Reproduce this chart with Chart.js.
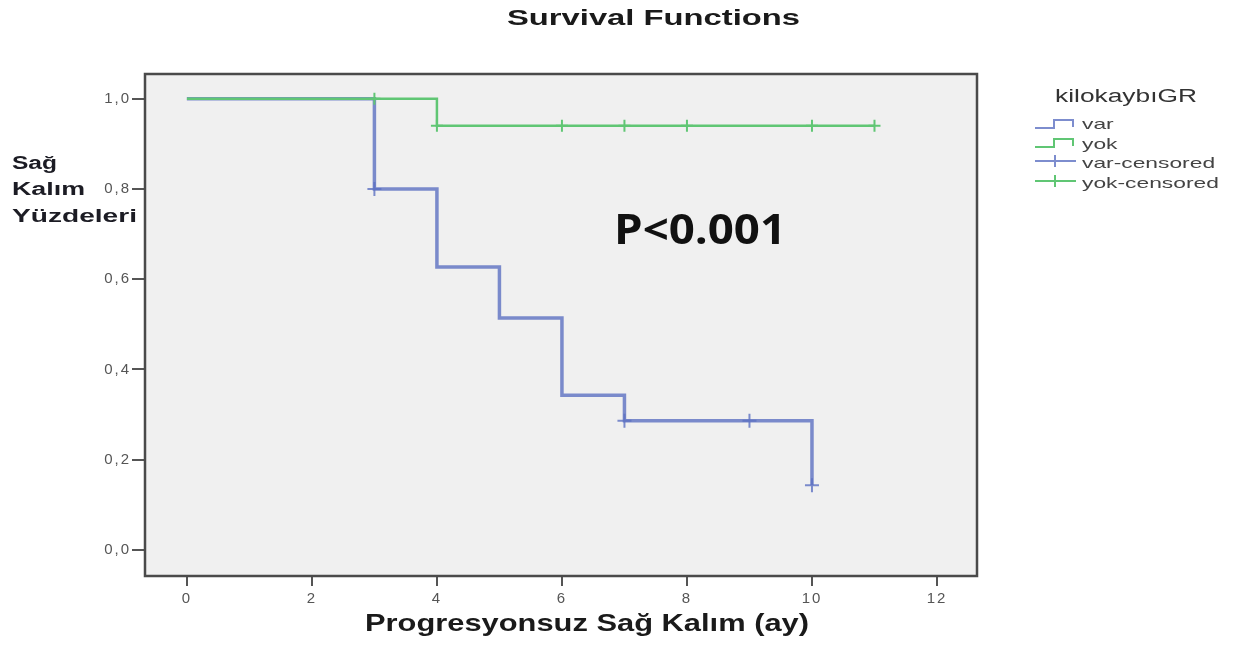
<!DOCTYPE html>
<html lang="tr">
<head>
<meta charset="UTF-8">
<title>Survival Functions</title>
<script src="https://cdn.jsdelivr.net/npm/chart.js"></script>
<style>
    body {
        margin: 0;
        padding: 0;
        background: #fff;
        overflow: hidden;
    }
    #wrap {
        position: relative;
        width: 1251px;
        height: 646px;
    }
</style>
</head>
<body>
<div id="wrap">
    <canvas id="kmChart" width="1251" height="646"></canvas>
</div>

<script>
// Kaplan-Meier basamak noktalari (zaman, sag kalim)
const varTimes = [0, 3, 4, 5, 6, 7, 10];
const varSurv  = [1.0, 0.8, 0.627, 0.514, 0.343, 0.286, 0.143];
const yokTimes = [0, 4, 11];
const yokSurv  = [1.0, 0.94, 0.94];

// Sansurlu gozlemler
const varCensTimes = [3, 7, 9, 10];
const varCensSurv  = [0.8, 0.286, 0.286, 0.143];
const yokCensTimes = [3, 4, 6, 7, 8, 10, 11];
const yokCensSurv  = [1.0, 0.94, 0.94, 0.94, 0.94, 0.94, 0.94];

// Eksen etiketleri
const xTicks = [0, 2, 4, 6, 8, 10, 12];
const yTicks = [0, 0.2, 0.4, 0.6, 0.8, 1.0];

const legendLabels = ['var', 'yok', 'var-censored', 'yok-censored'];

const blue = 'rgba(92, 112, 194, 0.8)';
const green = 'rgb(96, 198, 116)';

function toPoints(xs, ys) {
    return xs.map((x, i) => ({ x: x, y: ys[i] }));
}

// metni yatayda genisleterek cizer (orijinal gorsel yatay olarak gerilmis)
function wideText(ctx, text, x, y, font, color, targetWidth) {
    ctx.save();
    ctx.font = font;
    ctx.fillStyle = color;
    ctx.textAlign = 'left';
    ctx.textBaseline = 'alphabetic';
    const w = ctx.measureText(text).width;
    ctx.translate(x, y);
    ctx.scale(targetWidth / w, 1);
    ctx.fillText(text, 0, 0);
    ctx.restore();
}

const framePlugin = {
    id: 'frame',
    beforeDraw(chart) {
        const a = chart.chartArea;
        const ctx = chart.ctx;
        ctx.save();
        ctx.fillStyle = '#f0f0f0';
        ctx.fillRect(a.left, a.top, a.right - a.left, a.bottom - a.top);
        ctx.restore();
        ctx.letterSpacing = '2px';
    },
    afterDraw(chart) {
        const a = chart.chartArea;
        const ctx = chart.ctx;
        ctx.letterSpacing = '0px';
        ctx.save();
        ctx.strokeStyle = '#4a4a4a';
        ctx.lineWidth = 2.5;
        ctx.strokeRect(a.left, a.top, a.right - a.left, a.bottom - a.top);
        ctx.restore();

        // baslik ve eksen basliklari
        wideText(ctx, 'Survival Functions', 507, 25, 'bold 22px "Liberation Sans", Arial, sans-serif', '#1a1a1a', 293);
        wideText(ctx, 'Progresyonsuz Sağ Kalım (ay)', 365, 631, 'bold 24px "Liberation Sans", Arial, sans-serif', '#1a1a1a', 444);
        wideText(ctx, 'Sağ', 12, 169, 'bold 18px "Liberation Sans", Arial, sans-serif', '#1c1c24', 45);
        wideText(ctx, 'Kalım', 12, 195, 'bold 18px "Liberation Sans", Arial, sans-serif', '#1c1c24', 73);
        wideText(ctx, 'Yüzdeleri', 12, 222, 'bold 18px "Liberation Sans", Arial, sans-serif', '#1c1c24', 125);

        // P degeri
        wideText(ctx, 'P<0.001', 614, 244, 'bold 42px "Open Sans", sans-serif', '#111', 172);

        // lejant
        wideText(ctx, 'kilokaybıGR', 1055, 102, '18px "Liberation Sans", Arial, sans-serif', '#333', 142);
        const ds = chart.data.datasets;
        const rows = [
            { base: 129, low: 128, high: 120, color: ds[1].borderColor, step: true },
            { base: 149, low: 147, high: 139, color: ds[0].borderColor, step: true },
            { base: 168, mid: 161, color: ds[3].borderColor, step: false },
            { base: 188, mid: 181, color: ds[2].borderColor, step: false }
        ];
        rows.forEach((r, i) => {
            ctx.save();
            ctx.strokeStyle = r.color;
            ctx.lineWidth = 2;
            ctx.beginPath();
            if (r.step) {
                ctx.moveTo(1035, r.low);
                ctx.lineTo(1054, r.low);
                ctx.lineTo(1054, r.high);
                ctx.lineTo(1073, r.high);
                ctx.lineTo(1073, r.low - 1);
            } else {
                ctx.moveTo(1035, r.mid);
                ctx.lineTo(1076, r.mid);
                ctx.moveTo(1055, r.mid - 6);
                ctx.lineTo(1055, r.mid + 6);
            }
            ctx.stroke();
            ctx.restore();
            const txt = legendLabels[i];
            const font = '15px "Liberation Sans", Arial, sans-serif';
            ctx.save();
            ctx.font = font;
            const w = ctx.measureText(txt).width;
            ctx.restore();
            wideText(ctx, txt, 1082, r.base, font, '#444', w * 1.52);
        });
    }
};

const ctx = document.getElementById('kmChart').getContext('2d');

new Chart(ctx, {
    type: 'line',
    data: {
        datasets: [
            {
                label: 'yok',
                data: toPoints(yokTimes, yokSurv),
                borderColor: green,
                borderWidth: 2.5,
                stepped: true,
                pointRadius: 0,
                fill: false,
                order: 1
            },
            {
                label: 'var',
                data: toPoints(varTimes, varSurv),
                borderColor: blue,
                borderWidth: 3.5,
                stepped: true,
                pointRadius: 0,
                fill: false,
                order: 2
            },
            {
                label: 'yok-censored',
                data: toPoints(yokCensTimes, yokCensSurv),
                borderColor: green,
                showLine: false,
                pointStyle: 'cross',
                pointRadius: 6,
                pointBorderWidth: 2,
                pointBorderColor: green,
                order: 0
            },
            {
                label: 'var-censored',
                data: toPoints(varCensTimes, varCensSurv),
                borderColor: blue,
                showLine: false,
                pointStyle: 'cross',
                pointRadius: 7,
                pointBorderWidth: 2,
                pointBorderColor: blue,
                order: 0
            }
        ]
    },
    options: {
        responsive: false,
        animation: false,
        layout: {
            padding: { top: 74, right: 274, left: 0, bottom: 0 }
        },
        plugins: {
            legend: { display: false },
            title: { display: false },
            tooltip: { enabled: false }
        },
        scales: {
            x: {
                type: 'linear',
                min: -0.67,
                max: 12.64,
                afterFit(scale) { scale.height = 70; },
                afterBuildTicks(scale) { scale.ticks = xTicks.map(v => ({ value: v })); },
                grid: {
                    drawOnChartArea: false,
                    drawTicks: true,
                    tickLength: 10,
                    color: '#555',
                    lineWidth: 2
                },
                border: { display: false },
                ticks: {
                    color: '#555',
                    padding: 4,
                    maxRotation: 0,
                    font: { family: '"Liberation Sans", Arial, sans-serif', size: 15 },
                    callback: v => String(v)
                }
            },
            y: {
                type: 'linear',
                min: -0.058,
                max: 1.055,
                afterFit(scale) { scale.width = 145; },
                afterBuildTicks(scale) { scale.ticks = yTicks.map(v => ({ value: v })); },
                grid: {
                    drawOnChartArea: false,
                    drawTicks: true,
                    tickLength: 13,
                    color: '#555',
                    lineWidth: 2
                },
                border: { display: false },
                ticks: {
                    color: '#555',
                    padding: 1,
                    font: { family: '"Liberation Sans", Arial, sans-serif', size: 15 },
                    callback: v => v.toFixed(1).replace('.', ',')
                }
            }
        }
    },
    plugins: [framePlugin]
});
</script>
</body>
</html>
